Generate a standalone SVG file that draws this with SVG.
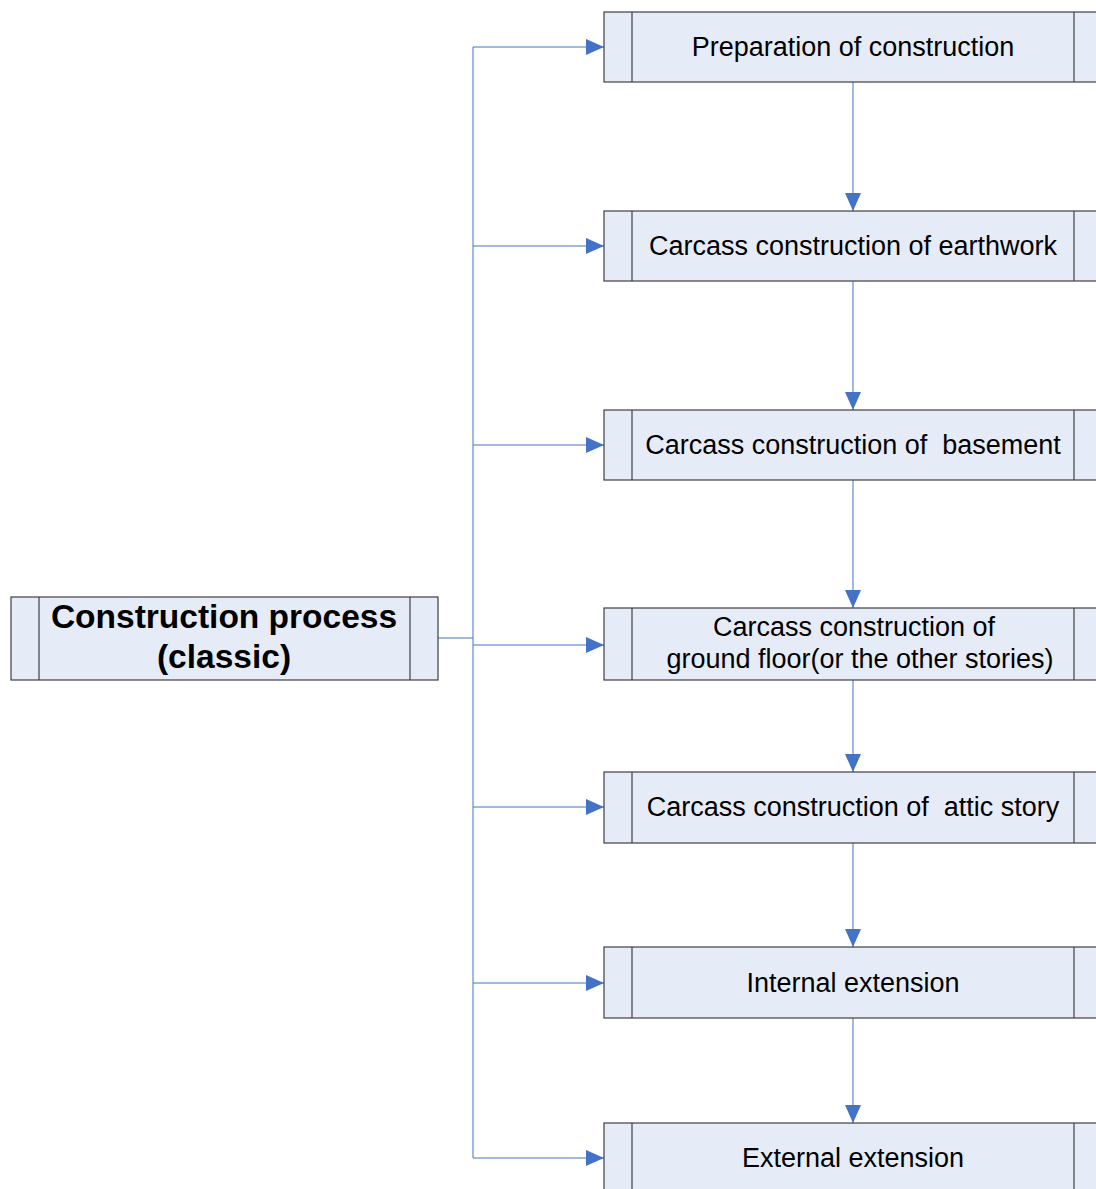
<svg xmlns="http://www.w3.org/2000/svg" width="1096" height="1189" viewBox="0 0 1096 1189">
<style>
.box{fill:#E6ECF7;stroke:#404040;stroke-width:1.2}
.div{stroke:#404040;stroke-width:1.2}
.t{font-family:"Liberation Sans",Arial,sans-serif;font-size:27px;fill:#000;text-anchor:middle}
.tb{font-family:"Liberation Sans",Arial,sans-serif;font-size:33.5px;font-weight:bold;fill:#000;text-anchor:middle}
.c{fill:none;stroke:#4472C4;stroke-width:1}
</style>
<defs>
<marker id="ah" viewBox="0 0 18 16" refX="18" refY="8" markerWidth="18" markerHeight="16" markerUnits="userSpaceOnUse" orient="auto">
<path d="M0,0 L18,8 L0,16 Z" fill="#4472C4"/>
</marker>
</defs>
<rect width="1096" height="1189" fill="#fff"/>
<g id="connectors">
<path class="c" d="M438,638 H473"/>
<path class="c" d="M473,47 V1158"/>
<path class="c" d="M473,47 H604" marker-end="url(#ah)"/>
<path class="c" d="M473,246 H604" marker-end="url(#ah)"/>
<path class="c" d="M473,445 H604" marker-end="url(#ah)"/>
<path class="c" d="M473,645 H604" marker-end="url(#ah)"/>
<path class="c" d="M473,807 H604" marker-end="url(#ah)"/>
<path class="c" d="M473,983 H604" marker-end="url(#ah)"/>
<path class="c" d="M473,1158 H604" marker-end="url(#ah)"/>
<path class="c" d="M853,82 V211" marker-end="url(#ah)"/>
<path class="c" d="M853,281 V410" marker-end="url(#ah)"/>
<path class="c" d="M853,480 V608" marker-end="url(#ah)"/>
<path class="c" d="M853,680 V772" marker-end="url(#ah)"/>
<path class="c" d="M853,843 V947" marker-end="url(#ah)"/>
<path class="c" d="M853,1018 V1123" marker-end="url(#ah)"/>
</g>
<g id="root">
<rect class="box" x="11" y="597" width="427" height="83"/>
<line class="div" x1="39" y1="597" x2="39" y2="680"/>
<line class="div" x1="410" y1="597" x2="410" y2="680"/>
<text class="tb" x="224" y="628">Construction process</text>
<text class="tb" x="224" y="668">(classic)</text>
</g>
<g id="n1">
<rect class="box" x="604" y="12" width="498" height="70"/>
<line class="div" x1="632" y1="12" x2="632" y2="82"/>
<line class="div" x1="1074" y1="12" x2="1074" y2="82"/>
<text class="t" x="853" y="56">Preparation of construction</text>
</g>
<g id="n2">
<rect class="box" x="604" y="211" width="498" height="70"/>
<line class="div" x1="632" y1="211" x2="632" y2="281"/>
<line class="div" x1="1074" y1="211" x2="1074" y2="281"/>
<text class="t" x="853" y="255">Carcass construction of earthwork</text>
</g>
<g id="n3">
<rect class="box" x="604" y="410" width="498" height="70"/>
<line class="div" x1="632" y1="410" x2="632" y2="480"/>
<line class="div" x1="1074" y1="410" x2="1074" y2="480"/>
<text class="t" x="853" y="454" xml:space="preserve">Carcass construction of  basement</text>
</g>
<g id="n4">
<rect class="box" x="604" y="608" width="498" height="72"/>
<line class="div" x1="632" y1="608" x2="632" y2="680"/>
<line class="div" x1="1074" y1="608" x2="1074" y2="680"/>
<text class="t" x="854" y="636">Carcass construction of</text>
<text class="t" x="860" y="668">ground floor(or the other stories)</text>
</g>
<g id="n5">
<rect class="box" x="604" y="772" width="498" height="71"/>
<line class="div" x1="632" y1="772" x2="632" y2="843"/>
<line class="div" x1="1074" y1="772" x2="1074" y2="843"/>
<text class="t" x="853" y="816" xml:space="preserve">Carcass construction of  attic story</text>
</g>
<g id="n6">
<rect class="box" x="604" y="947" width="498" height="71"/>
<line class="div" x1="632" y1="947" x2="632" y2="1018"/>
<line class="div" x1="1074" y1="947" x2="1074" y2="1018"/>
<text class="t" x="853" y="992">Internal extension</text>
</g>
<g id="n7">
<rect class="box" x="604" y="1123" width="498" height="70"/>
<line class="div" x1="632" y1="1123" x2="632" y2="1193"/>
<line class="div" x1="1074" y1="1123" x2="1074" y2="1193"/>
<text class="t" x="853" y="1167">External extension</text>
</g>
</svg>
